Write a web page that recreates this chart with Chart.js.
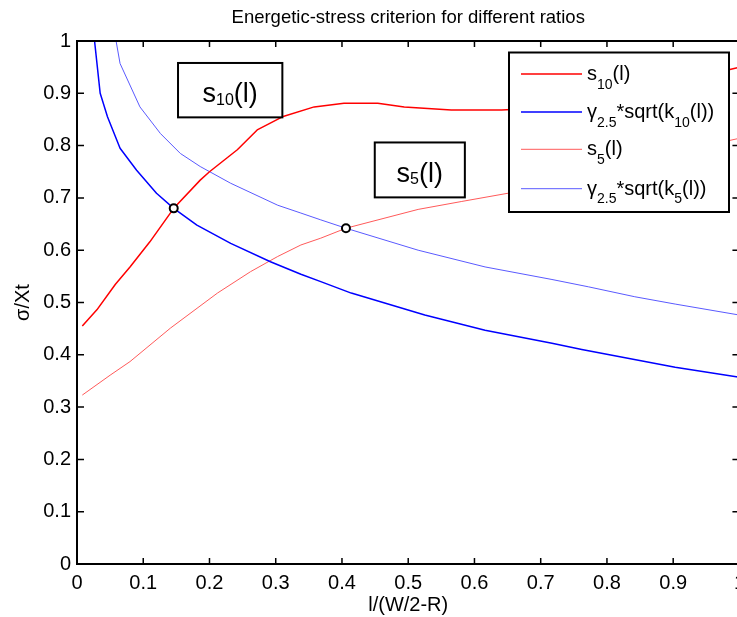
<!DOCTYPE html>
<html>
<head>
<meta charset="utf-8">
<script src="https://cdn.jsdelivr.net/npm/chart.js"></script>
<style>
  html, body { margin: 0; padding: 0; overflow: hidden; background: #fff; }
  canvas { display: block; }
</style>
</head>
<body>
<canvas id="myChart" width="752" height="617"></canvas>
<script>
// values: x = l/(W/2-R), y = sigma/Xt
const s10X = [0.008, 0.03, 0.058, 0.08, 0.11, 0.146, 0.186, 0.2, 0.242, 0.272, 0.31, 0.358, 0.403, 0.454, 0.494, 0.565, 0.641, 0.75, 0.85, 0.95, 1.0];
const s10Y = [0.455, 0.486, 0.535, 0.568, 0.616, 0.68, 0.734, 0.75, 0.792, 0.83, 0.855, 0.874, 0.881, 0.881, 0.874, 0.868, 0.868, 0.875, 0.9, 0.935, 0.95];

const k10X = [0.02, 0.0265, 0.035, 0.046, 0.065, 0.09, 0.12, 0.146, 0.181, 0.232, 0.292, 0.338, 0.368, 0.414, 0.525, 0.616, 0.717, 0.762, 0.903, 1.0];
const k10Y = [1.08, 1.0, 0.9, 0.855, 0.795, 0.753, 0.709, 0.68, 0.648, 0.613, 0.578, 0.554, 0.54, 0.518, 0.476, 0.447, 0.422, 0.41, 0.376, 0.357];

const s5X = [0.008, 0.05, 0.08, 0.141, 0.212, 0.262, 0.303, 0.338, 0.368, 0.406, 0.515, 0.58, 0.651, 0.75, 0.85, 0.95, 1.0];
const s5Y = [0.323, 0.361, 0.387, 0.451, 0.518, 0.559, 0.588, 0.61, 0.623, 0.642, 0.678, 0.693, 0.709, 0.74, 0.77, 0.80, 0.814];

const k5X = [0.05, 0.059, 0.065, 0.095, 0.126, 0.156, 0.186, 0.232, 0.303, 0.338, 0.368, 0.406, 0.515, 0.616, 0.717, 0.772, 0.842, 0.903, 1.0];
const k5Y = [1.05, 1.0, 0.957, 0.874, 0.823, 0.785, 0.76, 0.728, 0.686, 0.671, 0.658, 0.642, 0.600, 0.568, 0.544, 0.530, 0.511, 0.497, 0.476];

// crossing points marked with circles
const crossX = [0.146, 0.406];
const crossY = [0.68, 0.642];

const xTicks = [0, 0.1, 0.2, 0.3, 0.4, 0.5, 0.6, 0.7, 0.8, 0.9, 1];
const xTickLabels = ['0', '0.1', '0.2', '0.3', '0.4', '0.5', '0.6', '0.7', '0.8', '0.9', '1'];
const yTicks = [0, 0.1, 0.2, 0.3, 0.4, 0.5, 0.6, 0.7, 0.8, 0.9, 1];
const yTickLabels = ['0', '0.1', '0.2', '0.3', '0.4', '0.5', '0.6', '0.7', '0.8', '0.9', '1'];

const FONT = "'Liberation Sans', Arial, Helvetica, sans-serif";
const RED = '#ff0000';
const BLUE = '#0000ff';
const RED_LIGHT = '#ff5a5a';
const BLUE_LIGHT = '#5a5aff';

function pts(xs, ys) {
  return xs.map((x, i) => ({x: x, y: ys[i]}));
}

// draw text made of pieces [text, size, dy] (dy lowers subscripts)
function richText(ctx, parts, x, y, align) {
  let w = 0;
  parts.forEach(p => {
    ctx.font = p[1] + 'px ' + FONT;
    w += ctx.measureText(p[0]).width;
  });
  if (align === 'center') x -= w / 2;
  parts.forEach(p => {
    ctx.font = p[1] + 'px ' + FONT;
    ctx.fillText(p[0], x, y + (p[2] || 0));
    x += ctx.measureText(p[0]).width;
  });
}

const legendItems = [
  {color: RED, width: 1.5, parts: [['s', 20], ['10', 14, 8.5], ['(l)', 20]]},
  {color: BLUE, width: 1.5, parts: [['\u03b3', 20], ['2.5', 14, 8.5], ['*sqrt(k', 20], ['10', 14, 8.5], ['(l))', 20]]},
  {color: RED_LIGHT, width: 1, parts: [['s', 20], ['5', 14, 8.5], ['(l)', 20]]},
  {color: BLUE_LIGHT, width: 1, parts: [['\u03b3', 20], ['2.5', 14, 8.5], ['*sqrt(k', 20], ['5', 14, 8.5], ['(l))', 20]]}
];

// text boxes, corners given in axis units
const labelBoxes = [
  {x0: 0.1525, x1: 0.310, y0: 0.958, y1: 0.854, parts: [['s', 27], ['10', 16, 2.5], ['(l)', 27]]},
  {x0: 0.4495, x1: 0.5855, y0: 0.806, y1: 0.701, parts: [['s', 27], ['5', 16, 2.5], ['(l)', 27]]}
];

const matlabAxes = {
  id: 'matlabAxes',
  afterDraw(chart) {
    const ctx = chart.ctx;
    const a = chart.chartArea;
    const xs = chart.scales.x, ys = chart.scales.y;
    ctx.save();
    ctx.strokeStyle = '#000';
    ctx.lineWidth = 2;
    ctx.beginPath();
    ctx.moveTo(a.left, a.top);
    ctx.lineTo(a.right, a.top);
    ctx.lineTo(a.right, a.bottom);
    ctx.stroke();

    // inward ticks
    ctx.lineWidth = 1.5;
    ctx.beginPath();
    xTicks.forEach(v => {
      const px = xs.getPixelForValue(v);
      ctx.moveTo(px, a.bottom); ctx.lineTo(px, a.bottom - 6);
      ctx.moveTo(px, a.top); ctx.lineTo(px, a.top + 6);
    });
    yTicks.forEach(v => {
      const py = ys.getPixelForValue(v);
      ctx.moveTo(a.left, py); ctx.lineTo(a.left + 7, py);
      ctx.moveTo(a.right, py); ctx.lineTo(a.right - 7, py);
    });
    ctx.stroke();

    // text boxes
    ctx.textBaseline = 'alphabetic';
    labelBoxes.forEach(b => {
      const l = xs.getPixelForValue(b.x0), r = xs.getPixelForValue(b.x1);
      const t = ys.getPixelForValue(b.y0), bt = ys.getPixelForValue(b.y1);
      ctx.fillStyle = '#fff';
      ctx.fillRect(l, t, r - l, bt - t);
      ctx.lineWidth = 2;
      ctx.strokeStyle = '#000';
      ctx.strokeRect(l, t, r - l, bt - t);
      ctx.fillStyle = '#000';
      richText(ctx, b.parts, (l + r) / 2, (t + bt) / 2 + 12, 'center');
    });

    // legend
    const lx = a.left + 432, ly = a.top + 11.5, lw = 220, lh = 159.5;
    ctx.fillStyle = '#fff';
    ctx.fillRect(lx, ly, lw, lh);
    ctx.lineWidth = 2;
    ctx.strokeStyle = '#000';
    ctx.strokeRect(lx, ly, lw, lh);
    const rows = [21.5, 59.5, 96.8, 136.2];
    legendItems.forEach((it, i) => {
      const ry = ly + rows[i];
      ctx.strokeStyle = it.color;
      ctx.lineWidth = it.width;
      ctx.beginPath();
      ctx.moveTo(lx + 12, ry);
      ctx.lineTo(lx + 73, ry);
      ctx.stroke();
      ctx.fillStyle = '#000';
      richText(ctx, it.parts, lx + 78, ry + 6, 'left');
    });
    ctx.restore();
  }
};

const lineStyle = {fill: false, pointRadius: 0, tension: 0, borderJoinStyle: 'round'};

new Chart(document.getElementById('myChart'), {
  type: 'line',
  data: {
    datasets: [
      {label: 'cross', data: pts(crossX, crossY), showLine: false, pointRadius: 4,
       pointBorderWidth: 2, pointBorderColor: '#000', pointBackgroundColor: '#fff'},
      Object.assign({label: 's10(l)', data: pts(s10X, s10Y), borderColor: RED, borderWidth: 1.5}, lineStyle),
      Object.assign({label: 'g2.5*sqrt(k10(l))', data: pts(k10X, k10Y), borderColor: BLUE, borderWidth: 1.5}, lineStyle),
      Object.assign({label: 's5(l)', data: pts(s5X, s5Y), borderColor: RED_LIGHT, borderWidth: 1}, lineStyle),
      Object.assign({label: 'g2.5*sqrt(k5(l))', data: pts(k5X, k5Y), borderColor: BLUE_LIGHT, borderWidth: 1}, lineStyle)
    ]
  },
  options: {
    responsive: false,
    animation: false,
    devicePixelRatio: 1,
    layout: {padding: {left: 0, right: 0, top: 0, bottom: 0}},
    plugins: {
      legend: {display: false},
      tooltip: {enabled: false},
      title: {
        display: true,
        text: 'Energetic-stress criterion for different ratios',
        color: '#000',
        fullSize: false,
        font: {family: FONT, size: 18.5, weight: 'normal'},
        padding: {top: 7, bottom: 11.8}
      }
    },
    scales: {
      x: {
        type: 'linear', min: 0, max: 1,
        afterBuildTicks: s => { s.ticks = xTicks.map(v => ({value: v})); },
        afterFit: s => { s.height = 53; },
        ticks: {callback: (v, i) => xTickLabels[i], color: '#000', font: {family: FONT, size: 20},
                padding: 7, maxRotation: 0, autoSkip: false},
        grid: {display: false, drawTicks: false},
        border: {display: true, color: '#000', width: 2},
        title: {display: true, text: 'l/(W/2-R)', color: '#000', font: {family: FONT, size: 20},
                padding: {top: 0, bottom: 0}}
      },
      y: {
        type: 'linear', min: 0, max: 1,
        afterBuildTicks: s => { s.ticks = yTicks.map(v => ({value: v})); },
        afterFit: s => { s.width = 77; },
        ticks: {callback: (v, i) => yTickLabels[i], color: '#000', font: {family: FONT, size: 20},
                padding: 6, autoSkip: false},
        grid: {display: false, drawTicks: false},
        border: {display: true, color: '#000', width: 2},
        title: {display: true, text: '\u03c3/Xt', color: '#000', font: {family: FONT, size: 20},
                padding: {top: 11, bottom: 0}}
      }
    }
  },
  plugins: [matlabAxes]
});
</script>
</body>
</html>
